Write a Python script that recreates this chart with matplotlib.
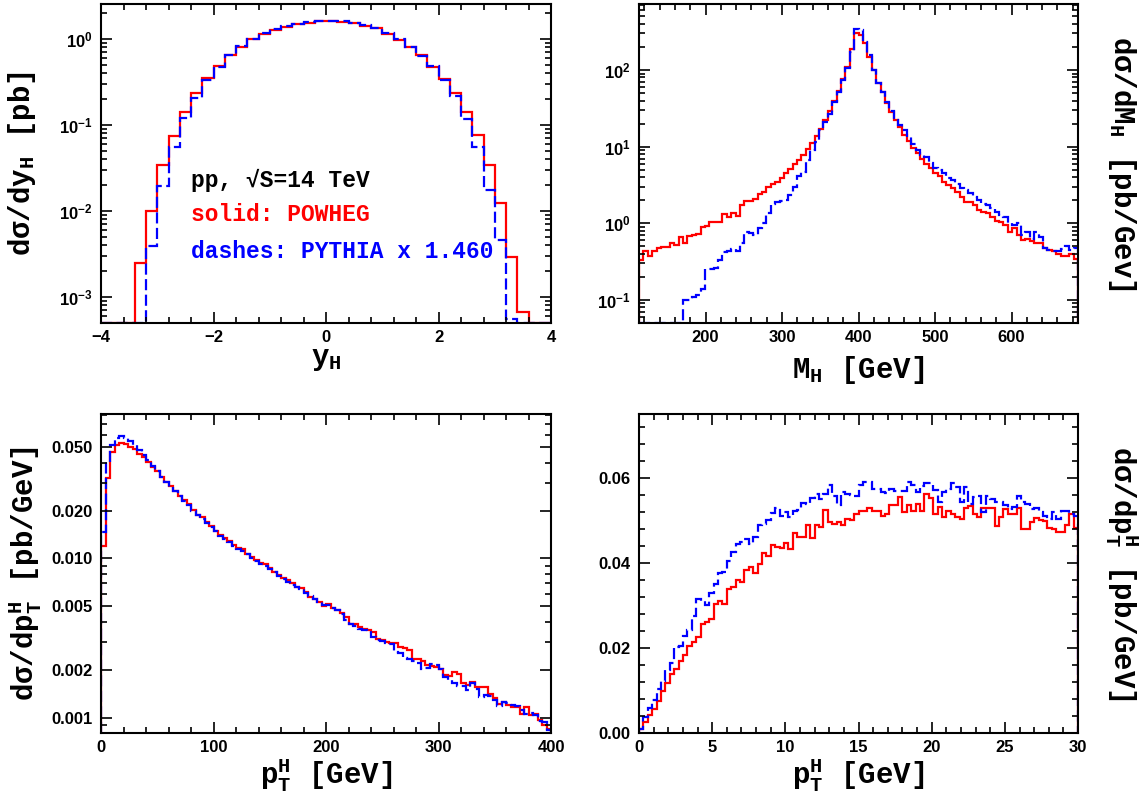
import matplotlib
matplotlib.use('Agg')
import matplotlib.pyplot as plt
import numpy as np
from matplotlib.ticker import MultipleLocator, FixedLocator, LogLocator, NullFormatter, FormatStrFormatter

plt.rcParams['font.family'] = ['Liberation Mono', 'DejaVu Sans']
plt.rcParams['font.weight'] = 'bold'
plt.rcParams['axes.labelweight'] = 'bold'

# ---- rapidity of the Higgs, 40 bins from -4 to 4
yh_edges = np.linspace(-4, 4, 41)
yh_powheg = [0, 0, 0, 0.00248, 0.0100, 0.0347, 0.0754, 0.142, 0.238, 0.352,
             0.49, 0.646, 0.80, 1.0, 1.14, 1.26, 1.38, 1.48, 1.55, 1.60,
             1.60, 1.57, 1.52, 1.43, 1.33, 1.15, 0.97, 0.81, 0.65, 0.477,
             0.343, 0.234, 0.143, 0.077, 0.0344, 0.0123, 0.00289, 0.00067, 0, 0]
yh_pythia = [0, 0, 0, 0, 0.0039, 0.0195, 0.055, 0.12, 0.205, 0.334,
             0.477, 0.65, 0.82, 1.0, 1.16, 1.30, 1.42, 1.50, 1.57, 1.63,
             1.63, 1.60, 1.53, 1.45, 1.33, 1.17, 0.99, 0.80, 0.64, 0.48,
             0.33, 0.22, 0.117, 0.056, 0.0176, 0.0046, 0.00056, 0, 0, 0]

# ---- Higgs mass, 100 bins from 113 to 687 GeV
mh_edges = np.linspace(113, 687, 101)
mh_powheg = [0.33, 0.44, 0.37, 0.44, 0.47, 0.49, 0.49, 0.56, 0.52, 0.66,
             0.55, 0.68, 0.70, 0.72, 0.90, 0.91, 1.04, 1.04, 1.03, 1.31,
             1.20, 1.38, 1.25, 1.71, 1.95, 1.97, 2.1, 2.4, 2.55, 3.0,
             3.3, 3.5, 3.85, 4.5, 5.1, 5.9, 6.6, 7.9, 9.3, 11.0,
             13.8, 16.8, 22.0, 29.5, 39.5, 53.7, 75.6, 110, 190,
             300, 290, 223, 149, 100, 68, 52, 36.7, 28.6, 22.3,
             17.9, 14.2, 11.9, 9.5, 8.2, 7.0, 5.9, 5.2, 4.5, 4.1,
             3.5, 3.2, 2.86, 2.6, 2.2, 1.9, 1.9, 1.73, 1.49, 1.42,
             1.35, 1.2, 1.08, 1.05, 0.95, 0.78, 0.86, 0.70, 0.61, 0.63,
             0.58, 0.55, 0.56, 0.47, 0.45, 0.43, 0.40, 0.37, 0.37, 0.40, 0.345]
mh_pythia = [0, 0, 0, 0, 0, 0, 0, 0, 0, 0,
             0.10, 0.10, 0.11, 0.115, 0.14, 0.25, 0.25, 0.26, 0.33, 0.42,
             0.44, 0.46, 0.44, 0.55, 0.78, 0.74, 0.71, 0.86, 1.0, 1.35,
             1.8, 1.9, 1.97, 2.0, 2.35, 3.0, 4.2, 4.7, 6.7, 9.1,
             11.6, 16.5, 21, 27, 38, 52, 74, 105, 170,
             340, 330, 230, 157, 100, 68, 51, 38.6, 29.5, 22.3,
             19.2, 16.5, 13.2, 10.7, 9.0, 7.8, 7.3, 6.1, 5.3, 5.0,
             4.5, 3.9, 3.7, 3.3, 2.86, 2.7, 2.46, 2.2, 2.0, 1.8,
             1.73, 1.57, 1.42, 1.28, 1.22, 1.02, 0.95, 1.0, 0.70, 0.78,
             0.63, 0.76, 0.67, 0.47, 0.45, 0.43, 0.44, 0.46, 0.50, 0.45, 0.47]

# ---- Higgs transverse momentum, 100 bins from 0 to 400 GeV
pt_edges = np.linspace(0, 400, 101)
pt_powheg = [0.012, 0.032, 0.047, 0.052, 0.0533, 0.0524, 0.0504, 0.0487, 0.0457, 0.0437,
             0.0406, 0.0378, 0.0354, 0.0327, 0.0303, 0.0285, 0.0266, 0.0246, 0.0233, 0.0220,
             0.0201, 0.0189, 0.0181, 0.0170, 0.0160, 0.0148, 0.0140, 0.0134, 0.0129, 0.0121,
             0.0116, 0.0114, 0.0107, 0.0102, 0.0098, 0.0094, 0.0092, 0.0087, 0.0082, 0.0079,
             0.0075, 0.0073, 0.0070, 0.0066, 0.0065, 0.0062, 0.0057, 0.0056, 0.0053, 0.0050,
             0.00514, 0.0049, 0.00473, 0.00455, 0.0043, 0.0039, 0.00386, 0.0037, 0.00358, 0.00354,
             0.00345, 0.00314, 0.00307, 0.0030, 0.00295, 0.00295, 0.00278, 0.00272, 0.00265, 0.00235,
             0.00232, 0.00227, 0.00213, 0.0021, 0.00208, 0.00203, 0.00184, 0.00182, 0.00194, 0.00189,
             0.00164, 0.0016, 0.00168, 0.00156, 0.00156, 0.00156, 0.0014, 0.00132, 0.00122, 0.00125,
             0.0012, 0.00117, 0.00116, 0.00106, 0.00116, 0.00104, 0.00105, 0.00096, 0.0009, 0.00085]
pt_pythia = [0.0147, 0.0406, 0.0516, 0.0575, 0.059, 0.0575, 0.055, 0.052, 0.048, 0.045,
             0.0415, 0.038, 0.0354, 0.0325, 0.0303, 0.0283, 0.0264, 0.0248, 0.0231, 0.0218,
             0.0200, 0.0188, 0.0178, 0.0168, 0.0158, 0.0148, 0.0139, 0.0132, 0.0127, 0.0120,
             0.0115, 0.0112, 0.0106, 0.0101, 0.0097, 0.0093, 0.0090, 0.0086, 0.0082, 0.0078,
             0.0074, 0.0071, 0.0068, 0.0066, 0.0064, 0.0061, 0.0058, 0.0056, 0.0053, 0.0051,
             0.00509, 0.00485, 0.00473, 0.00447, 0.00409, 0.00386, 0.00375, 0.00363, 0.00354, 0.00351,
             0.00322, 0.00306, 0.00303, 0.00295, 0.00289, 0.00259, 0.00253, 0.00238, 0.00232, 0.00227,
             0.00221, 0.00203, 0.00206, 0.00216, 0.00213, 0.00203, 0.0018, 0.00172, 0.00164, 0.00157,
             0.00157, 0.0015, 0.00164, 0.00152, 0.00135, 0.00138, 0.00136, 0.00129, 0.00118, 0.00126,
             0.00124, 0.0012, 0.00118, 0.00111, 0.00106, 0.00107, 0.00104, 0.00095, 0.00094, 0.00083]

# ---- low transverse momentum, 100 bins from 0 to 30 GeV
lo_edges = np.linspace(0, 30, 101)
lo_powheg = [0.00094, 0.0025, 0.0043, 0.0056, 0.0076, 0.0098, 0.0118, 0.0139, 0.0151, 0.0169,
             0.0184, 0.0205, 0.0213, 0.0225, 0.0256, 0.0260, 0.0268, 0.0304, 0.0310, 0.0304,
             0.0339, 0.0343, 0.0360, 0.0355, 0.0384, 0.0391, 0.0376, 0.0398, 0.0423, 0.0417,
             0.0441, 0.0438, 0.0435, 0.0446, 0.0432, 0.0470, 0.0460, 0.0460, 0.0488, 0.0458,
             0.0488, 0.0485, 0.0525, 0.0496, 0.0492, 0.0496, 0.0490, 0.0503, 0.0501, 0.0515,
             0.0522, 0.0523, 0.0529, 0.0523, 0.0523, 0.0511, 0.0515, 0.0535, 0.0535, 0.0555,
             0.0519, 0.0535, 0.0523, 0.0539, 0.0522, 0.0561, 0.0553, 0.0515, 0.0531, 0.0507,
             0.0523, 0.0515, 0.0507, 0.0504, 0.0529, 0.0533, 0.0515, 0.0507, 0.0529, 0.0529,
             0.0529, 0.0486, 0.0507, 0.0527, 0.0515, 0.0515, 0.0529, 0.0480, 0.0480, 0.0496,
             0.0506, 0.0500, 0.0498, 0.0482, 0.0480, 0.0472, 0.0472, 0.0490, 0.0515, 0.0482]
lo_pythia = [0.0009, 0.0037, 0.0059, 0.0078, 0.0104, 0.0123, 0.0147, 0.0164, 0.0202, 0.0205,
             0.0227, 0.0241, 0.0274, 0.0315, 0.0311, 0.0302, 0.0329, 0.0351, 0.0376, 0.0378,
             0.0405, 0.0425, 0.0445, 0.0449, 0.0456, 0.0445, 0.0460, 0.0490, 0.0492, 0.0500,
             0.0517, 0.0529, 0.0509, 0.0519, 0.0507, 0.0523, 0.0525, 0.0540, 0.0539, 0.0553,
             0.0562, 0.0551, 0.0561, 0.0584, 0.0558, 0.0535, 0.0566, 0.0562, 0.0560, 0.0558,
             0.0582, 0.0591, 0.0591, 0.0574, 0.0574, 0.0566, 0.0564, 0.0574, 0.0570, 0.0569,
             0.0569, 0.0590, 0.0582, 0.0566, 0.0580, 0.0588, 0.0588, 0.0572, 0.0543, 0.0566,
             0.0574, 0.0588, 0.0578, 0.0543, 0.0578, 0.0539, 0.0555, 0.0558, 0.0519, 0.0558,
             0.0551, 0.0543, 0.0543, 0.0535, 0.0527, 0.0531, 0.0556, 0.0543, 0.0539, 0.0527,
             0.0529, 0.0519, 0.0511, 0.0504, 0.0519, 0.0504, 0.0522, 0.0522, 0.0515, 0.0511]

RED = '#ff0000'
BLUE = '#0000ff'
LABEL_SIZE = 21


def frame(ax):
    for s in ax.spines.values():
        s.set_linewidth(1.5)
    ax.tick_params(which='both', direction='in', top=True, right=True, width=1.2,
                   labelsize=12, labelfontfamily='Liberation Sans')
    ax.tick_params(which='major', length=8)
    ax.tick_params(which='minor', length=4)
    ax.tick_params(axis='x', pad=5)
    ax.tick_params(axis='y', pad=6)


def draw(ax, edges, red, blue, floor):
    ax.stairs(np.maximum(red, floor), edges, baseline=floor, color=RED, lw=1.6)
    ax.stairs(np.maximum(blue, floor), edges, baseline=floor, color=BLUE, lw=1.6,
              linestyle=(0, (5, 2)))


fig = plt.figure(figsize=(11.43, 7.97), dpi=100)
ax_y = fig.add_axes([0.0884, 0.5947, 0.3937, 0.4003])
ax_m = fig.add_axes([0.5591, 0.5947, 0.3841, 0.4003])
ax_pt = fig.add_axes([0.0884, 0.0803, 0.3937, 0.4003])
ax_lo = fig.add_axes([0.5591, 0.0803, 0.3841, 0.4003])

# rapidity
ax_y.set_yscale('log')
draw(ax_y, yh_edges, yh_powheg, yh_pythia, 5e-4)
ax_y.set_xlim(-4, 4)
ax_y.set_ylim(5e-4, 2.55)
ax_y.xaxis.set_major_locator(MultipleLocator(2))
ax_y.xaxis.set_minor_locator(MultipleLocator(0.4))
ax_y.yaxis.set_minor_locator(LogLocator(base=10, subs=np.arange(2, 10), numticks=20))
ax_y.yaxis.set_minor_formatter(NullFormatter())
frame(ax_y)
ax_y.set_xlabel('y$_\\mathregular{H}$', fontsize=LABEL_SIZE, va='center')
ax_y.xaxis.set_label_coords(0.5, -0.112)
ax_y.set_ylabel('dσ/dy$_\\mathregular{H}$ [pb]', fontsize=LABEL_SIZE, va='center')
ax_y.yaxis.set_label_coords(-0.176, 0.5)
ax_y.text(0.2, 0.448, 'pp, √S=14 TeV', transform=ax_y.transAxes, color='black',
          fontsize=16.5, va='center')
ax_y.text(0.2, 0.339, 'solid: POWHEG', transform=ax_y.transAxes, color=RED,
          fontsize=16.5, va='center')
ax_y.text(0.2, 0.223, 'dashes: PYTHIA x 1.460', transform=ax_y.transAxes, color=BLUE,
          fontsize=16.5, va='center')

# Higgs mass
ax_m.set_yscale('log')
draw(ax_m, mh_edges, mh_powheg, mh_pythia, 0.05)
ax_m.set_xlim(113, 687)
ax_m.set_ylim(0.05, 727)
ax_m.xaxis.set_major_locator(MultipleLocator(100))
ax_m.xaxis.set_minor_locator(MultipleLocator(20))
ax_m.yaxis.set_minor_locator(LogLocator(base=10, subs=np.arange(2, 10), numticks=20))
ax_m.yaxis.set_minor_formatter(NullFormatter())
frame(ax_m)
ax_m.set_xlabel('M$_\\mathregular{H}$ [GeV]', fontsize=LABEL_SIZE, va='center')
ax_m.xaxis.set_label_coords(0.5, -0.147)
ax_m.yaxis.set_label_position('right')
ax_m.set_ylabel('dσ/dM$_\\mathregular{H}$ [pb/Gev]', fontsize=LABEL_SIZE,
                rotation=-90, va='center')
ax_m.yaxis.set_label_coords(1.099, 0.5)

# transverse momentum, full range
ax_pt.set_yscale('log')
draw(ax_pt, pt_edges, pt_powheg, pt_pythia, 0.0008)
ax_pt.set_xlim(0, 400)
ax_pt.set_ylim(0.0008, 0.081)
ax_pt.xaxis.set_major_locator(MultipleLocator(100))
ax_pt.xaxis.set_minor_locator(MultipleLocator(20))
ax_pt.yaxis.set_major_locator(FixedLocator([0.001, 0.002, 0.005, 0.01, 0.02, 0.05]))
ax_pt.yaxis.set_major_formatter(FormatStrFormatter('%.3f'))
ax_pt.yaxis.set_minor_locator(FixedLocator([0.0009, 0.003, 0.004, 0.006, 0.007, 0.008, 0.009,
                                            0.03, 0.04, 0.06, 0.07, 0.08]))
ax_pt.yaxis.set_minor_formatter(NullFormatter())
frame(ax_pt)
ax_pt.set_xlabel('p$_\\mathregular{T}^\\mathregular{H}$ [GeV]', fontsize=LABEL_SIZE, va='center')
ax_pt.xaxis.set_label_coords(0.5, -0.132)
ax_pt.set_ylabel('dσ/dp$_\\mathregular{T}^\\mathregular{H}$ [pb/GeV]', fontsize=LABEL_SIZE,
                 va='center')
ax_pt.yaxis.set_label_coords(-0.168, 0.5)

# transverse momentum, low range
draw(ax_lo, lo_edges, lo_powheg, lo_pythia, 0)
ax_lo.set_xlim(0, 30)
ax_lo.set_ylim(0, 0.075)
ax_lo.xaxis.set_major_locator(MultipleLocator(5))
ax_lo.xaxis.set_minor_locator(MultipleLocator(1))
ax_lo.yaxis.set_major_locator(MultipleLocator(0.02))
ax_lo.yaxis.set_major_formatter(FormatStrFormatter('%.2f'))
ax_lo.yaxis.set_minor_locator(MultipleLocator(0.004))
frame(ax_lo)
ax_lo.set_xlabel('p$_\\mathregular{T}^\\mathregular{H}$ [GeV]', fontsize=LABEL_SIZE, va='center')
ax_lo.xaxis.set_label_coords(0.5, -0.132)
ax_lo.yaxis.set_label_position('right')
ax_lo.set_ylabel('dσ/dp$_\\mathregular{T}^\\mathregular{H}$ [pb/GeV]', fontsize=LABEL_SIZE,
                 rotation=-90, va='center')
ax_lo.yaxis.set_label_coords(1.099, 0.5)

fig.savefig('out.png', dpi=100)
